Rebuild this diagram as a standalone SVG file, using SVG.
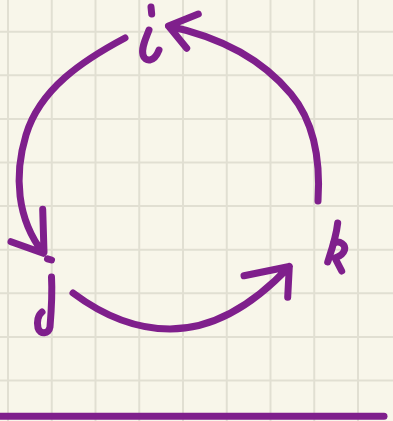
<svg xmlns="http://www.w3.org/2000/svg" width="393" height="421" viewBox="0 0 393 421">
<style>
.bg{fill:#F8F6EA}
.grid line{stroke:#E1DFD2;stroke-width:2}
.ink{fill:none;stroke:#7F1F8C;stroke-width:7;stroke-linecap:round;stroke-linejoin:round}
</style>
<rect class="bg" x="0" y="0" width="393" height="421"/>
<g class="grid">
<line x1="8" y1="0" x2="8" y2="421"/>
<line x1="51.75" y1="0" x2="51.75" y2="421"/>
<line x1="95.5" y1="0" x2="95.5" y2="421"/>
<line x1="139.25" y1="0" x2="139.25" y2="421"/>
<line x1="183" y1="0" x2="183" y2="421"/>
<line x1="226.75" y1="0" x2="226.75" y2="421"/>
<line x1="270.5" y1="0" x2="270.5" y2="421"/>
<line x1="314.25" y1="0" x2="314.25" y2="421"/>
<line x1="358" y1="0" x2="358" y2="421"/>
<line x1="0" y1="31.7" x2="393" y2="31.7"/>
<line x1="0" y1="75.3" x2="393" y2="75.3"/>
<line x1="0" y1="118.9" x2="393" y2="118.9"/>
<line x1="0" y1="162.5" x2="393" y2="162.5"/>
<line x1="0" y1="206.1" x2="393" y2="206.1"/>
<line x1="0" y1="249.7" x2="393" y2="249.7"/>
<line x1="0" y1="293.3" x2="393" y2="293.3"/>
<line x1="0" y1="336.9" x2="393" y2="336.9"/>
<line x1="0" y1="380.5" x2="393" y2="380.5"/>
</g>
<g id="connectors" class="ink">
<path id="i-to-j" d="M125,38 C82.6,60.5 39.9,89 26,135 C13.8,175.2 16.75,219.2 43.3,253 M11,241.7 L43.3,253.3 M42.7,209.3 L44,252"/>
<path id="j-to-k" d="M73,293 C101.3,314.2 134.6,329 170,329 C217,329 257.2,300.6 289.3,266.5 M244,275.7 L289.3,266.5 L287.7,297.3"/>
<path id="k-to-i" d="M318,201 C320.5,163 315.2,123.3 291,94 C260.8,57.5 216.5,36.3 168.5,26 M198.3,14 L168.5,26 L186.7,48.3"/>
</g>
<g id="node-i" class="ink">
<path d="M151,7 L151.7,14"/>
<path d="M149,30 C146,38 141,48 143,55 C145,62 154,63 159,50"/>
</g>
<g id="node-j" class="ink">
<path d="M47.5,258.8 L51.5,260"/>
<path d="M51.5,277 C52.5,295 51,315 50,327 C49,334 40,335 38,328 C36.5,322 38,315 42,312"/>
</g>
<g id="node-k" class="ink">
<path d="M337.7,223 C336,238 331,252 327.7,262"/>
<path d="M334,243 C340,240 346,245 344.5,250 C343,255 338,257 335,258 L341.7,271"/>
</g>
<path class="ink" d="M-5,416.3 L384,416.3"/>
</svg>
